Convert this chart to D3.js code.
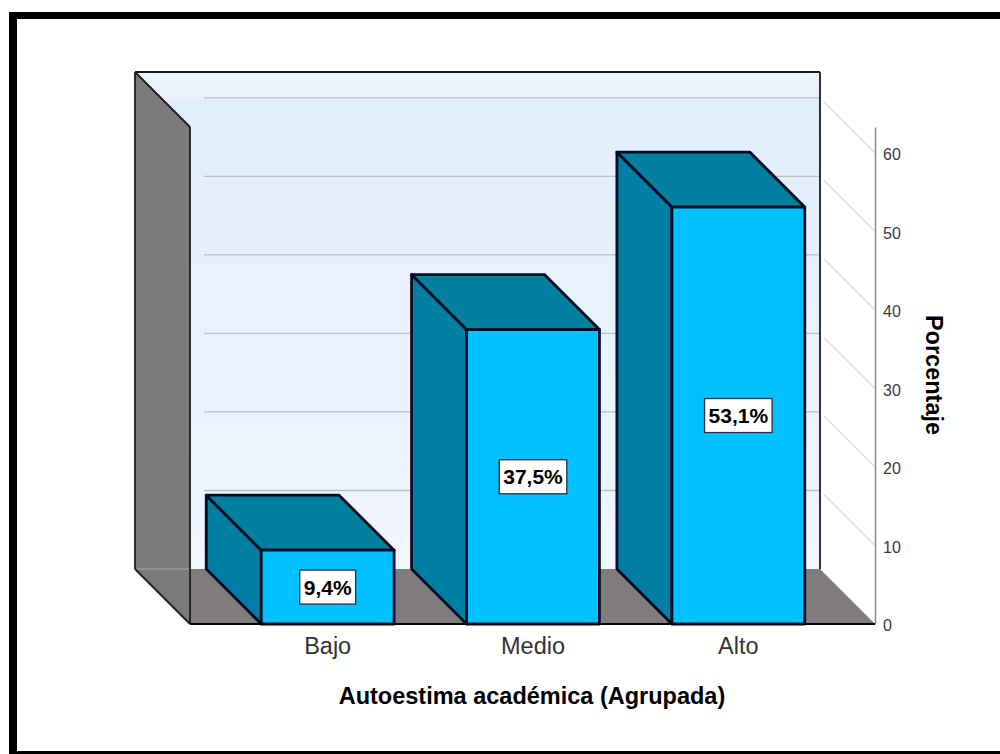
<!DOCTYPE html>
<html><head><meta charset="utf-8">
<script src="https://cdn.jsdelivr.net/npm/d3@7"></script>
<style>html,body{margin:0;padding:0;background:#fff}svg{display:block}text{font-family:"Liberation Sans",Arial,sans-serif}</style>
</head><body>
<svg id="c" width="1000" height="754"></svg>
<script>
const categories = ["Bajo","Medio","Alto"];
const percentages = [9.4,37.5,53.1];
const labels = ["9,4%","37,5%","53,1%"];
const tickValues = [0,10,20,30,40,50,60];
const axisMax = 63.3;
const xTitle = "Autoestima académica (Agrupada)";
const yTitle = "Porcentaje";

const svg = d3.select("#c");
const floorY = 624, topY = 127, left = 190, right = 875, depth = 55;
const y = d3.scaleLinear().domain([0,axisMax]).range([floorY,topY]);
const x = d3.scaleBand().domain(categories).range([225,841]).paddingInner(.353).paddingOuter(.1765);
const poly = p => p.map(d=>d.join(",")).join(" ");
const defs = svg.append("defs");
const g = defs.append("linearGradient").attr("id","wall").attr("x1",0).attr("x2",0).attr("y1",0).attr("y2",1);
[[0,"#eef2fa"],[.05,"#eaf1fb"],[.06,"#e2eefc"],[.5,"#e9f1fd"],[1,"#f0f5fe"]].forEach(s=>g.append("stop").attr("offset",s[0]).attr("stop-color",s[1]));

// frame
svg.append("rect").attr("x",9).attr("y",12).attr("width",991).attr("height",7).attr("fill","#000");
svg.append("rect").attr("x",9).attr("y",12).attr("width",8).attr("height",742).attr("fill","#000");
svg.append("rect").attr("x",9).attr("y",751).attr("width",991).attr("height",3).attr("fill","#000");

const backL = left-depth, backR = right-depth-0, backBottom = floorY-depth, backTop = topY-depth;
// back wall
svg.append("rect").attr("x",backL).attr("y",backTop).attr("width",backR-backL+1).attr("height",backBottom-backTop).attr("fill","url(#wall)");
// grid on back wall and right-hand side
svg.append("g").selectAll("line").data(tickValues.slice(1)).join("line")
  .attr("x1",left+14).attr("x2",backR).attr("y1",d=>y(d)-depth).attr("y2",d=>y(d)-depth)
  .attr("stroke","#b8bec8").attr("stroke-width",1.3);
svg.append("g").selectAll("line").data(tickValues.slice(1)).join("line")
  .attr("x1",backR+4).attr("x2",right).attr("y1",d=>y(d)-depth+4).attr("y2",d=>y(d))
  .attr("stroke","#dedede").attr("stroke-width",1.5);
// floor & left wall
svg.append("polygon").attr("points",poly([[backL,backBottom],[backR,backBottom],[right,floorY],[left,floorY]])).attr("fill","#807c7c");
svg.append("polygon").attr("points",poly([[backL,backTop],[left,topY],[left,floorY],[backL,backBottom]])).attr("fill","#7c7a7b");
svg.append("line").attr("x1",backL).attr("x2",left).attr("y1",backBottom).attr("y2",backBottom).attr("stroke","#a9a7a7");
// outlines
const outline = [[[backL,backTop],[backR,backTop]],[[backR,backTop],[backR,backBottom]],[[backL,backTop],[backL,backBottom]],[[backL,backTop],[left,topY]],[[left,topY],[left,floorY]],[[backL,backBottom],[left,floorY]]];
svg.append("g").selectAll("line").data(outline).join("line")
  .attr("x1",d=>d[0][0]).attr("y1",d=>d[0][1]).attr("x2",d=>d[1][0]).attr("y2",d=>d[1][1])
  .attr("stroke","#1b1b22").attr("stroke-width",1.8);

// axis
const ax = svg.append("g").attr("transform",`translate(${right},0)`).call(d3.axisRight(y).tickValues(tickValues).tickSize(0).tickPadding(8).tickFormat(d3.format("d")));
ax.select(".domain").attr("stroke","#8a8a8a").attr("stroke-width",1.5);
ax.selectAll("text").attr("font-size",16).attr("fill","#3a3a3a").attr("font-family","Liberation Sans").attr("dy","0.32em").attr("y",1.5);

// bars
const bars = svg.append("g").selectAll("g").data(categories.map((c,i)=>({c,v:percentages[i],l:labels[i]}))).join("g");
const stroke = {stroke:"#020c22","stroke-width":2.8,"stroke-linejoin":"round"};
function st(s){Object.entries(stroke).forEach(([k,v])=>s.attr(k,v));return s;}
bars.each(function(d){
  const b = d3.select(this), x0=x(d.c), x1=x0+x.bandwidth(), yt=y(d.v);
  st(b.append("polygon").attr("points",poly([[x0-depth,yt-depth],[x0,yt],[x0,floorY],[x0-depth,floorY-depth]])).attr("fill","#027da3"));
  st(b.append("polygon").attr("points",poly([[x0-depth,yt-depth],[x1-depth,yt-depth],[x1,yt],[x0,yt]])).attr("fill","#027e9e"));
  st(b.append("rect").attr("x",x0).attr("y",yt).attr("width",x1-x0).attr("height",floorY-yt).attr("fill","#00c0ff"));
  const cx=(x0+x1)/2, cy=(yt+floorY)/2;
  const box=b.append("rect").attr("fill","#fff").attr("stroke","#2a2f3c").attr("stroke-width",1.3);
  const t=b.append("text").attr("x",cx).attr("y",cy+7.5).attr("text-anchor","middle").attr("font-size",21).attr("font-weight","bold").attr("fill","#000").text(d.l);
  const w=t.node().getComputedTextLength()+8;
  box.attr("x",cx-w/2).attr("y",cy-17).attr("width",w).attr("height",34);
});
// baseline
svg.append("line").attr("x1",left).attr("x2",right).attr("y1",floorY).attr("y2",floorY).attr("stroke","#05070f").attr("stroke-width",2);
// category labels
svg.append("g").selectAll("text").data(categories).join("text")
  .attr("x",d=>x(d)+x.bandwidth()/2).attr("y",654).attr("text-anchor","middle").attr("font-size",23.5).attr("fill","#333").text(d=>d);
// titles
svg.append("text").attr("x",532).attr("y",704).attr("text-anchor","middle").attr("font-size",23.5).attr("font-weight","bold").attr("fill","#000").text(xTitle);
svg.append("text").attr("transform","translate(925.5,375) rotate(90)").attr("text-anchor","middle").attr("font-size",23.5).attr("font-weight","bold").attr("fill","#000").text(yTitle);
</script>
</body></html>
